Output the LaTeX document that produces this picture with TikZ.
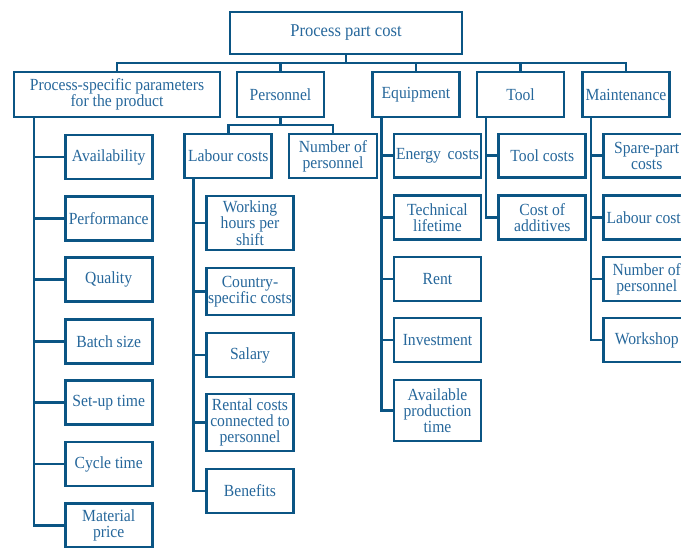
\documentclass[tikz,border=0pt]{standalone}
\usepackage{fontspec}
\setmainfont{Liberation Serif}[FakeStretch=0.92]
\definecolor{ln}{HTML}{0B5584}
\definecolor{tx}{HTML}{26679B}
\begin{document}
\begin{tikzpicture}[x=1pt,y=-1pt,
  box/.style={draw=ln,line width=2.7pt,text=tx,align=center,inner sep=0pt,
    minimum width=87pt,minimum height=44pt,font=\fontsize{17}{16.3}\selectfont},
  lvl/.style={box,minimum height=45pt},
  conn/.style={draw=ln,line width=2.7pt}]
\useasboundingbox (0,0) rectangle (681,547);
\clip (0,0) rectangle (681,547);
% root
\node[box,minimum width=232pt,minimum height=42pt,font=\fontsize{18}{18}\selectfont] (root) at (346,33) {Process part cost};
% level 1
\node[lvl,minimum width=206pt] (psp) at (117,94.5) {Process-specific parameters\\for the product};
\node[lvl] (pers) at (280.5,94.5) {Personnel};
\node[lvl] (equip) at (416,94.5) {Equipment};
\node[lvl] (tool) at (520.5,94.5) {Tool};
\node[lvl] (maint) at (626,94.5) {Maintenance};
\coordinate (bus) at (346,63);
\draw[conn] (root.south) -- (bus);
\draw[conn] (psp.north) |- (bus) -| (maint.north);
\draw[conn] (pers.north) -- (pers.north |- bus);
\draw[conn] (equip.north) -- (equip.north |- bus);
\draw[conn] (tool.north) -- (tool.north |- bus);
% process-specific parameters
\node[box] (avail) at (108.7,157) {Availability};
\node[box] (perf) at (108.7,218.4) {Performance};
\node[box] (qual) at (108.7,279.8) {Quality};
\node[box] (batch) at (108.7,341.2) {Batch size};
\node[box] (setup) at (108.7,402.6) {Set-up time};
\node[box] (cycle) at (108.7,464) {Cycle time};
\node[box] (mat) at (108.7,525.4) {Material\\price};
\coordinate (t1) at (34,0);
\foreach \n in {avail,perf,qual,batch,setup,cycle}
  \draw[conn] (t1 |- psp.south) |- (\n.west);
\draw[conn] (t1 |- psp.south) |- (mat.west);
% personnel
\node[box] (lab) at (228.3,156) {Labour costs};
\node[box,minimum width=88pt] (nump) at (333,156) {Number of\\personnel};
\coordinate (pbus) at (280.5,125);
\draw[conn] (pers.south) -- (pbus);
\draw[conn] (lab.north) |- (pbus) -| (nump.north);
\node[box,minimum height=54pt] (work) at (250,223) {Working\\hours per\\shift};
\node[box,minimum height=47pt] (country) at (250,291.6) {Country-\\specific costs};
\node[box] (salary) at (250,355) {Salary};
\node[box,minimum height=57pt] (rental) at (250,422.6) {Rental costs\\connected to\\personnel};
\node[box] (benef) at (250,491) {Benefits};
\coordinate (t2) at (193.3,0);
\foreach \n in {work,country,salary,rental,benef}
  \draw[conn] (t2 |- lab.south) |- (\n.west);
% equipment
\node[box,minimum height=43.5pt] (energy) at (437.5,155.7) {Energy\, costs};
\node[box,minimum height=43.5pt] (tech) at (437.5,217.5) {Technical\\lifetime};
\node[box] (rent) at (437.5,279) {Rent};
\node[box] (invest) at (437.5,340) {Investment};
\node[box,minimum height=61pt] (availp) at (437.5,410.5) {Available\\production\\time};
\coordinate (t3) at (381.7,0);
\foreach \n in {energy,tech,rent,invest,availp}
  \draw[conn] (t3 |- equip.south) |- (\n.west);
% tool
\node[box,minimum height=43.5pt] (toolc) at (542.3,155.7) {Tool costs};
\node[box,minimum height=43.5pt] (addit) at (542.3,217.5) {Cost of\\additives};
\coordinate (t4) at (486,0);
\foreach \n in {toolc,addit}
  \draw[conn] (t4 |- tool.south) |- (\n.west);
% maintenance
\node[box,minimum height=43.5pt] (spare) at (646.7,155.7) {Spare-part\\costs};
\node[box,minimum height=43.5pt] (mlab) at (646.7,217.5) {Labour costs};
\node[box] (mnum) at (646.7,279) {Number of\\personnel};
\node[box] (wshop) at (646.7,340) {Workshop};
\coordinate (t5) at (591,0);
\foreach \n in {spare,mlab,mnum,wshop}
  \draw[conn] (t5 |- maint.south) |- (\n.west);
\end{tikzpicture}
\end{document}
